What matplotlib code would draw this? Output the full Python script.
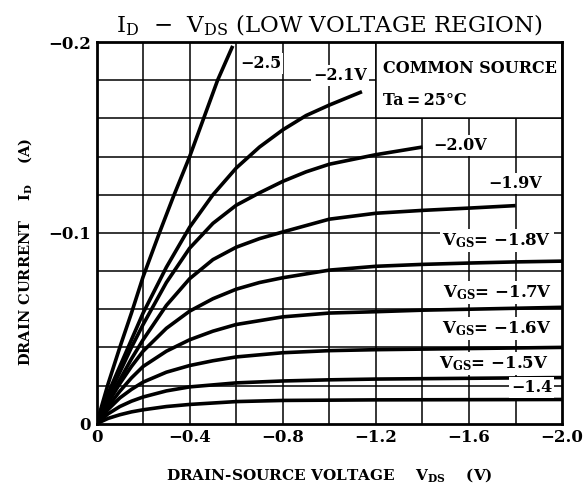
import matplotlib
matplotlib.use("Agg")
import matplotlib.pyplot as plt
import numpy as np

plt.rcParams['font.family'] = ['DejaVu Serif']
plt.rcParams['font.weight'] = 'bold'
plt.rcParams['mathtext.default'] = 'regular'

# drain-source voltage (V, magnitude) and drain current (A, magnitude) per gate voltage
v25 = [0, 0.05, 0.1, 0.15, 0.2, 0.27, 0.33, 0.40, 0.46, 0.52, 0.585]
i25 = [0, 0.021, 0.040, 0.058, 0.077, 0.100, 0.119, 0.140, 0.160, 0.180, 0.198]

v21 = [0, 0.05, 0.1, 0.15, 0.2, 0.3, 0.4, 0.5, 0.6, 0.7, 0.8, 0.9, 1.0, 1.14]
i21 = [0, 0.016, 0.030, 0.044, 0.058, 0.082, 0.103, 0.120, 0.134, 0.145, 0.154, 0.1615, 0.167, 0.174]

v20 = [0, 0.05, 0.1, 0.15, 0.2, 0.3, 0.4, 0.5, 0.6, 0.7, 0.8, 0.9, 1.0, 1.2, 1.4]
i20 = [0, 0.014, 0.027, 0.040, 0.052, 0.074, 0.092, 0.105, 0.1145, 0.121, 0.127, 0.132, 0.136, 0.141, 0.145]

v19 = [0, 0.05, 0.1, 0.15, 0.2, 0.3, 0.4, 0.5, 0.6, 0.7, 0.8, 1.0, 1.2, 1.4, 1.6, 1.8]
i19 = [0, 0.012, 0.023, 0.034, 0.044, 0.062, 0.076, 0.086, 0.0925, 0.097, 0.1005, 0.1072, 0.1103, 0.1118, 0.113, 0.1143]

v18 = [0, 0.05, 0.1, 0.15, 0.2, 0.3, 0.4, 0.5, 0.6, 0.7, 0.8, 1.0, 1.2, 1.4, 1.6, 1.8, 2.0]
i18 = [0, 0.011, 0.021, 0.030, 0.038, 0.050, 0.059, 0.0655, 0.0705, 0.074, 0.0765, 0.0805, 0.0825, 0.0835, 0.0842, 0.0848, 0.0852]

v17 = [0, 0.05, 0.1, 0.15, 0.2, 0.3, 0.4, 0.5, 0.6, 0.8, 1.0, 1.2, 1.4, 1.6, 1.8, 2.0]
i17 = [0, 0.009, 0.017, 0.024, 0.030, 0.038, 0.044, 0.0485, 0.052, 0.056, 0.058, 0.0587, 0.0595, 0.060, 0.0605, 0.061]

v16 = [0, 0.05, 0.1, 0.15, 0.2, 0.3, 0.4, 0.5, 0.6, 0.8, 1.0, 1.2, 1.6, 2.0]
i16 = [0, 0.0075, 0.0135, 0.018, 0.0218, 0.027, 0.0305, 0.033, 0.0350, 0.0372, 0.0383, 0.0388, 0.0394, 0.040]

v15 = [0, 0.05, 0.1, 0.15, 0.2, 0.3, 0.4, 0.6, 0.8, 1.0, 1.2, 1.6, 2.0]
i15 = [0, 0.0052, 0.009, 0.0118, 0.014, 0.0172, 0.0193, 0.0214, 0.0224, 0.023, 0.0234, 0.0238, 0.0242]

v14 = [0, 0.05, 0.1, 0.15, 0.2, 0.3, 0.4, 0.6, 0.8, 1.2, 2.0]
i14 = [0, 0.0028, 0.0047, 0.0062, 0.0073, 0.0090, 0.0101, 0.0116, 0.0122, 0.0125, 0.0127]

curves = [(v25, i25), (v21, i21), (v20, i20), (v19, i19), (v18, i18),
          (v17, i17), (v16, i16), (v15, i15), (v14, i14)]

xticks = [0, -0.4, -0.8, -1.2, -1.6, -2.0]
xticklabels = ['0', '\u22120.4', '\u22120.8', '\u22121.2', '\u22121.6', '\u22122.0']
yticks = [0, -0.1, -0.2]
yticklabels = ['0', '\u22120.1', '\u22120.2']

fig = plt.figure(figsize=(5.85, 4.95), dpi=100)
ax = fig.add_axes([0.165, 0.144, 0.796, 0.771])

for v, i in curves:
    ax.plot(-np.array(v), -np.array(i), color='black', lw=2.6, zorder=3,
            solid_capstyle='butt', solid_joinstyle='round')

ax.set_xlim(0, -2.0)
ax.set_ylim(0, -0.2)

# grid every 0.2 V and 0.02 A
for gx in np.arange(1, 10) * -0.2:
    ax.axvline(gx, color='black', lw=1.1, zorder=1)
for gy in np.arange(1, 10) * -0.02:
    ax.axhline(gy, color='black', lw=1.1, zorder=1)

# box for conditions (top right)
ax.add_patch(plt.Rectangle((-1.2, -0.16), -0.8, -0.04, facecolor='white',
                           edgecolor='black', lw=1.1, zorder=2))
ax.text(-1.23, -0.1861, 'COMMON SOURCE', fontsize=11.5, ha='left', va='center', zorder=4)
ax.text(-1.23, -0.1694, 'Ta\u2009=\u200925\u00b0C', fontsize=11.5, ha='left', va='center', zorder=4)

box = dict(facecolor='white', edgecolor='none', pad=1.5)
labels = [
    (-0.616, -0.1887, '\u22122.5', 'left'),
    (-1.045, -0.1825, '\u22122.1V', 'center'),
    (-1.56, -0.1458, '\u22122.0V', 'center'),
    (-1.796, -0.1259, '\u22121.9V', 'center'),
    (-1.72, -0.0961, '$V_{GS}$= \u22121.8V', 'center'),
    (-1.72, -0.0688, '$V_{GS}$= \u22121.7V', 'center'),
    (-1.72, -0.0500, '$V_{GS}$= \u22121.6V', 'center'),
    (-1.705, -0.0317, '$V_{GS}$= \u22121.5V', 'center'),
    (-1.869, -0.0191, '\u22121.4', 'center'),
]
for x, y, s, ha in labels:
    fs = 12 if s.startswith('$') else 11.5
    ax.text(x, y, s, fontsize=fs, ha=ha, va='center', bbox=box, zorder=4)

ax.set_xticks(xticks)
ax.set_xticklabels(xticklabels, fontsize=12)
ax.set_yticks(yticks)
ax.set_yticklabels(yticklabels, fontsize=12)
ax.tick_params(length=0, pad=4)
for sp in ax.spines.values():
    sp.set_linewidth(2)

ax.set_xlabel('DRAIN-SOURCE VOLTAGE    $V_{DS}$    (V)', fontsize=11, labelpad=14,
              fontweight='bold')
ax.set_ylabel('DRAIN CURRENT    $I_D$    (A)', fontsize=10.5, fontweight='bold')
ax.yaxis.set_label_coords(-0.135, 0.45)
ax.set_title('$I_D$  \u2212  $V_{DS}$ (LOW VOLTAGE REGION)', fontsize=16.5, pad=7,
             fontweight='normal')

fig.savefig('out.png', dpi=100)
